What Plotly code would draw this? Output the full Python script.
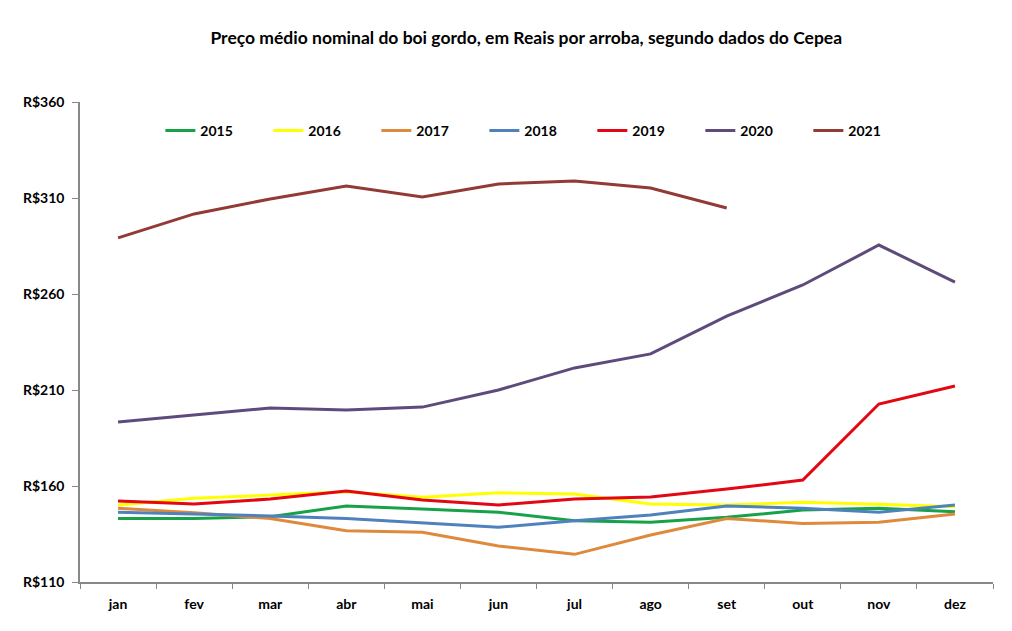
import plotly.graph_objects as go

months = ["jan", "fev", "mar", "abr", "mai", "jun", "jul", "ago", "set", "out", "nov", "dez"]

y2015 = [143.1, 143.1, 144.0, 149.6, 148.0, 146.3, 141.9, 141.1, 143.7, 147.5, 148.4, 146.6]
y2016 = [150.1, 153.6, 155.3, 157.0, 154.1, 156.5, 155.8, 150.6, 150.1, 151.5, 150.5, 149.2]
y2017 = [148.4, 146.1, 143.1, 136.7, 135.9, 128.8, 124.4, 134.5, 143.1, 140.5, 141.1, 145.4]
y2018 = [146.3, 145.4, 144.4, 143.1, 140.9, 138.5, 141.9, 144.9, 149.6, 148.4, 146.3, 150.1]
y2019 = [152.2, 150.6, 153.2, 157.4, 152.7, 150.1, 153.2, 154.3, 158.4, 163.1, 202.7, 212.1]
y2020 = [193.3, 197.0, 200.6, 199.6, 201.1, 210.0, 221.5, 228.8, 248.5, 264.7, 285.5, 266.2]
y2021 = [289.2, 301.7, 309.5, 316.3, 310.5, 317.3, 318.9, 315.2, 304.8]

series = [
    ("2015", y2015, "#17A24A"),
    ("2016", y2016, "#FFFF00"),
    ("2017", y2017, "#DE8A3C"),
    ("2018", y2018, "#4F81BD"),
    ("2019", y2019, "#E30613"),
    ("2020", y2020, "#5E4B7C"),
    ("2021", y2021, "#923A36"),
]

FONT = "Lato, Arial, sans-serif"

fig = go.Figure()
for name, ys, color in series:
    fig.add_trace(go.Scatter(
        x=months[:len(ys)], y=ys, name="<b>" + name + "</b>", mode="lines",
        line=dict(color=color, width=3),
    ))

fig.update_layout(
    width=1012, height=631,
    margin=dict(l=80, r=19, t=102, b=49),
    paper_bgcolor="white", plot_bgcolor="white",
    font=dict(family=FONT, color="#000000", size=14),
    title=dict(
        text="<b>Preço médio nominal do boi gordo, em Reais por arroba, segundo dados do Cepea</b>",
        x=0.52, xanchor="center", y=0.94, yanchor="middle",
        font=dict(size=17.5, family=FONT, color="#000000"),
    ),
    legend=dict(
        orientation="h", x=0.088, xanchor="left", y=0.94, yanchor="middle",
        entrywidth=63, entrywidthmode="pixels",
        font=dict(size=14, family=FONT),
        bgcolor="rgba(0,0,0,0)", itemwidth=30, tracegroupgap=0,
    ),
    showlegend=True,
)

fig.update_xaxes(
    type="category", categoryorder="array", categoryarray=months,
    range=[-0.5, 11.5],
    showline=True, linecolor="#888888", linewidth=1.5,
    ticks="outside", tickson="boundaries", ticklen=5, tickcolor="#888888",
    showgrid=False, zeroline=False,
    tickfont=dict(size=14, family=FONT),
    ticklabelstandoff=8,
    tickprefix="<b>", ticksuffix="</b>",
)
fig.update_yaxes(
    range=[110, 360], tickvals=[110, 160, 210, 260, 310, 360],
    ticktext=["<b>R$%d</b>" % v for v in [110, 160, 210, 260, 310, 360]],
    showline=True, linecolor="#888888", linewidth=1.5,
    ticks="outside", ticklen=6, tickcolor="#888888",
    showgrid=False, zeroline=False,
    tickfont=dict(size=14, family=FONT),
    ticklabelstandoff=5,
)

fig.write_html("out.html")
